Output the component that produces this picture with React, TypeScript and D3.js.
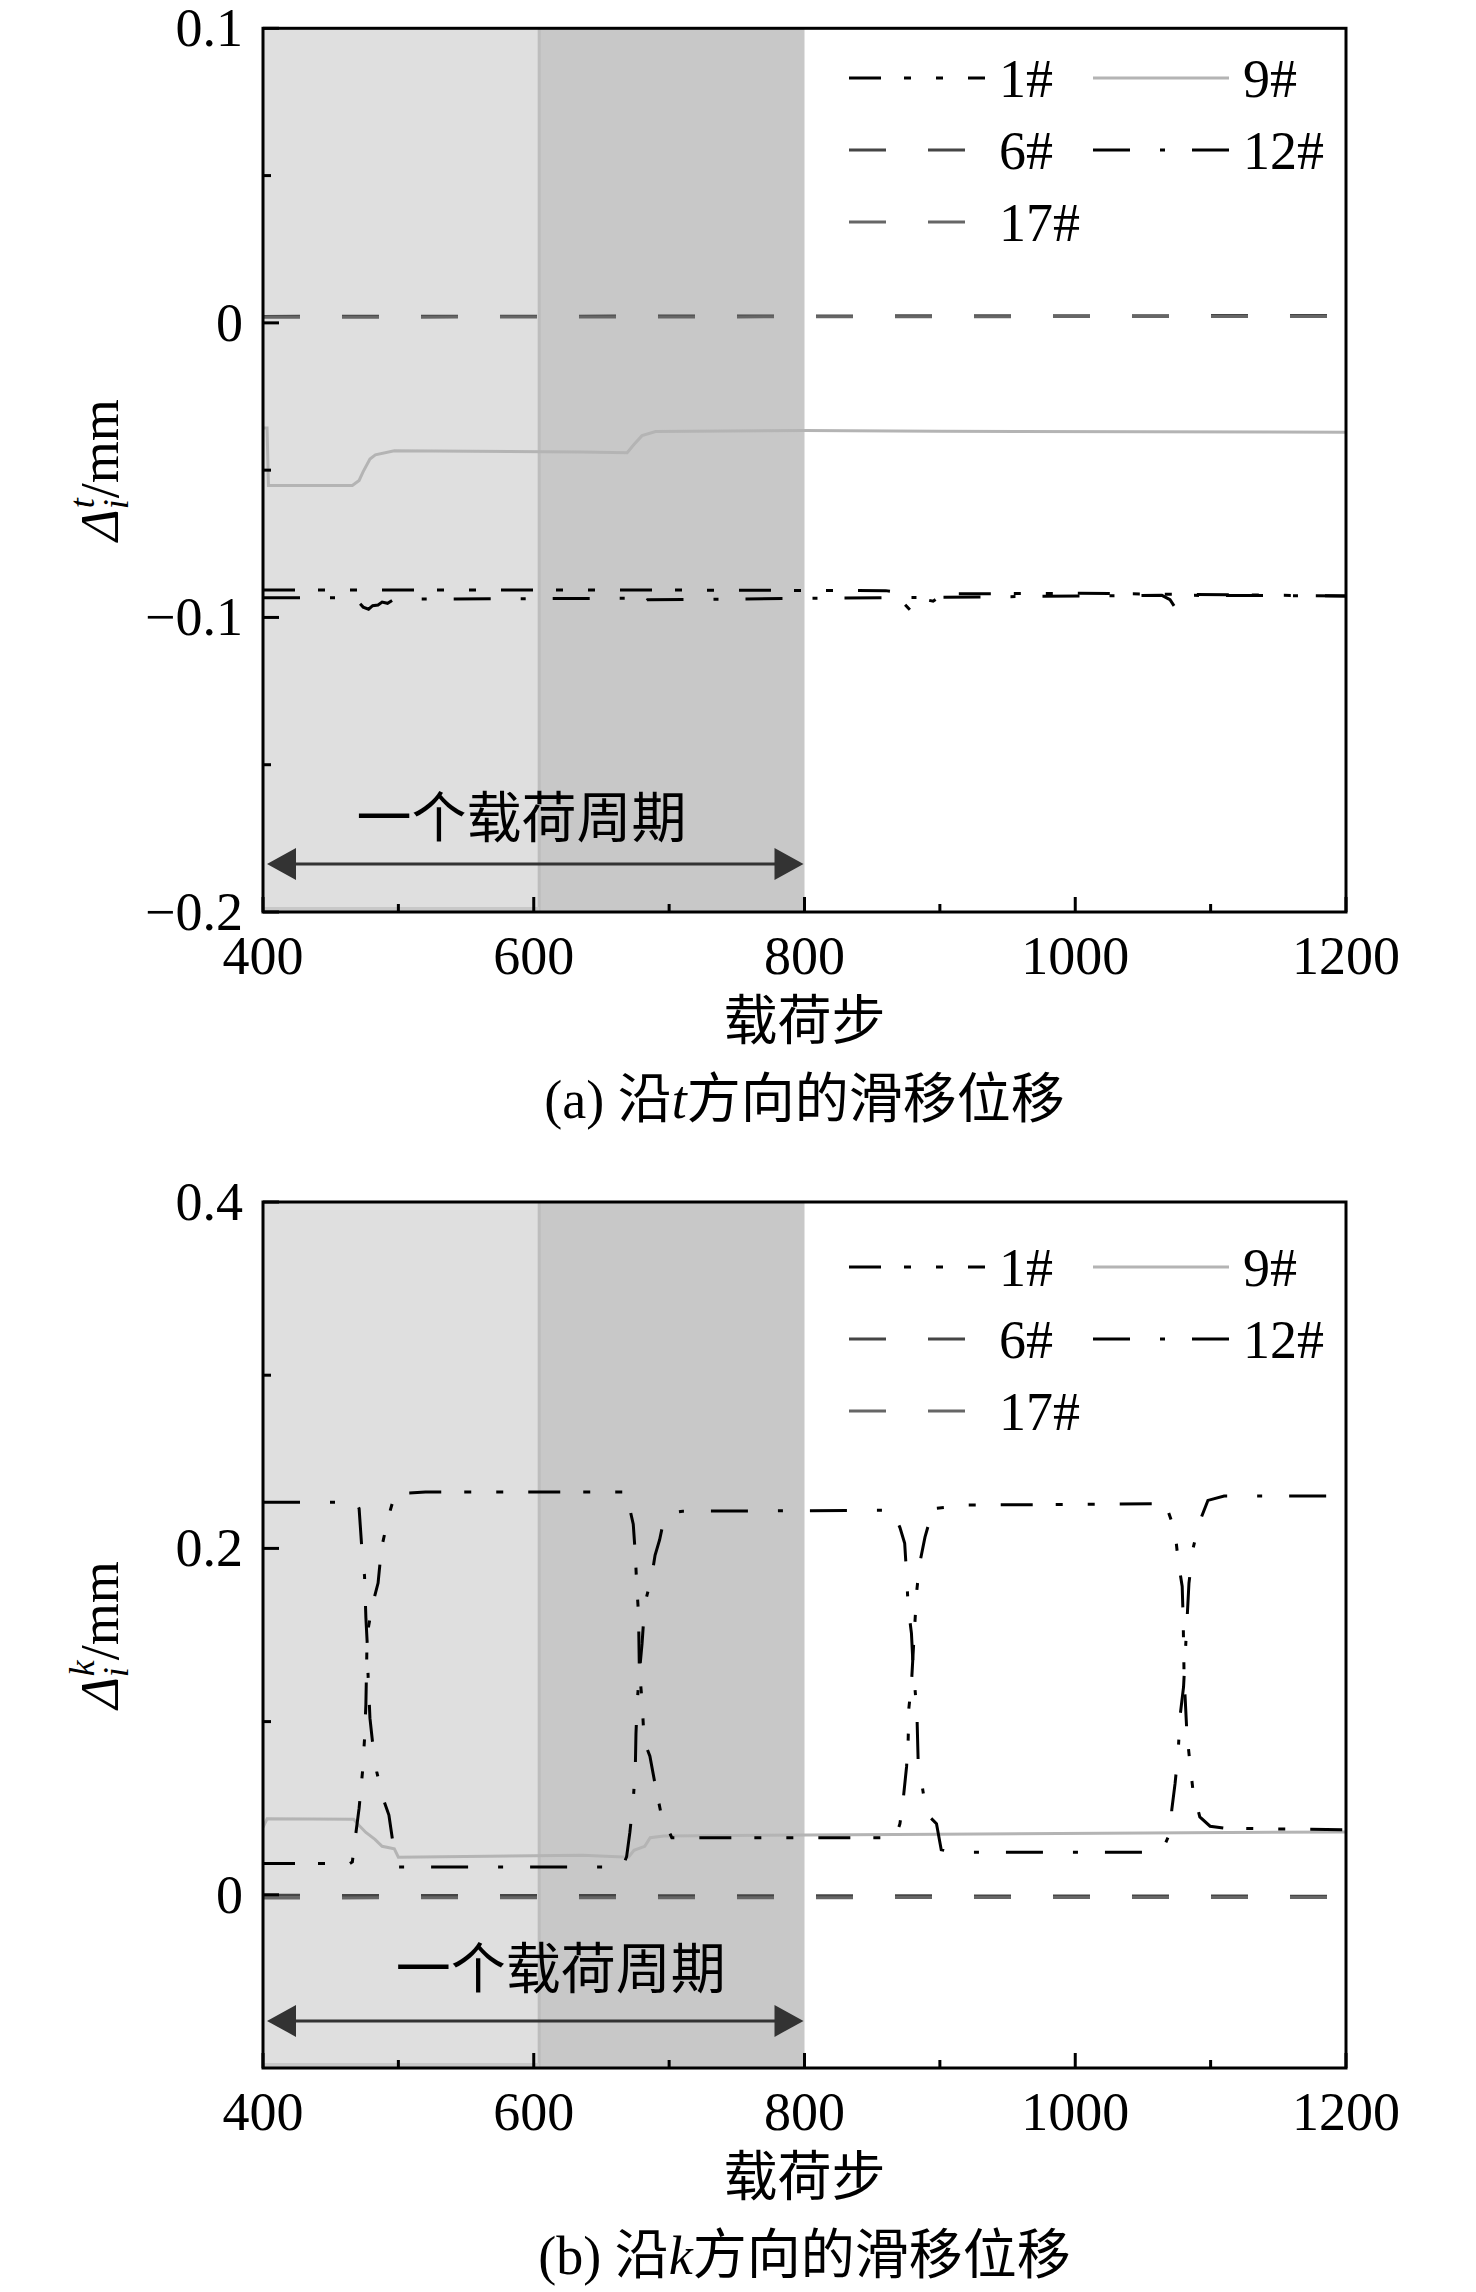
import React from "react";
import * as d3 from "d3";

type Pt = [number, number];

// x: load step, shared by both panels
const xTicks = [400, 600, 800, 1000, 1200];
const xMinor = [500, 700, 900, 1100];

// cycle shading (load steps)
const cycleStart = 400;
const cycleHalf = 604;
const cycleEnd = 800;

// panel (a) y axis
const aDomain: [number, number] = [-0.2, 0.1];
const aTicks = [-0.2, -0.1, 0, 0.1];
const aMinor = [-0.15, -0.05, 0.05];
const aTickLabels = ["−0.2", "−0.1", "0", "0.1"];

// panel (b) y axis
const bDomain: [number, number] = [-0.1, 0.4];
const bTicks = [0, 0.2, 0.4];
const bMinor = [0.1, 0.3];
const bTickLabels = ["0", "0.2", "0.4"];

// panel (a) series, [load step, slip mm]
const a1: Pt[] = [
  [400, -0.0907], [700, -0.0907], [860, -0.0909], [870, -0.0915], [874, -0.0955],
  [878, -0.0975], [882, -0.096], [886, -0.0965], [890, -0.094], [895, -0.0945],
  [903, -0.092], [1000, -0.0918], [1200, -0.0927],
];
const a6: Pt[] = [[400, 0.0022], [1190, 0.0025]];
const a9: Pt[] = [
  [400, -0.0357], [403, -0.0357], [404, -0.0552], [466, -0.0552], [471, -0.0535],
  [474, -0.0505], [479, -0.0462], [483, -0.0448], [497, -0.0434], [636, -0.0438],
  [669, -0.0441], [674, -0.0413], [680, -0.0383], [690, -0.0369], [800, -0.0365],
  [900, -0.0368], [1200, -0.0371],
];
const a12: Pt[] = [
  [400, -0.0933], [464, -0.0933], [470, -0.0945], [474, -0.0965], [478, -0.0972],
  [481, -0.096], [485, -0.0958], [488, -0.0948], [492, -0.0952], [497, -0.0938],
  [670, -0.0935], [674, -0.0945], [677, -0.0962], [680, -0.0955], [684, -0.094],
  [1064, -0.0925], [1070, -0.094], [1075, -0.0975], [1079, -0.096], [1083, -0.0925],
  [1200, -0.0927],
];
const a17: Pt[] = [[400, 0.0019], [1190, 0.0022]];

// panel (b) series
const b1: Pt[] = [
  [400, 0.018], [464, 0.018], [466, 0.019], [469, 0.038], [471, 0.05], [473.5, 0.071],
  [475, 0.09], [476, 0.11], [476.7, 0.14], [478, 0.155], [481, 0.168], [485, 0.18],
  [487.5, 0.2], [492.6, 0.218], [497.5, 0.2316], [520, 0.2325], [668, 0.2325],
  [669, 0.2296], [673.5, 0.214], [675, 0.197], [676, 0.18], [677.4, 0.162], [678, 0.13],
  [680, 0.112], [681, 0.097], [683.4, 0.085], [685.8, 0.08], [689.6, 0.064], [694, 0.047],
  [702, 0.033], [865, 0.033], [868, 0.035], [870.5, 0.041], [872.9, 0.055], [875.4, 0.074],
  [876.6, 0.09], [877, 0.107], [879, 0.122], [881, 0.15], [883, 0.176], [885, 0.191],
  [889, 0.2065], [895, 0.223], [920, 0.225], [1066, 0.2258], [1067.5, 0.224],
  [1073.7, 0.21], [1076, 0.193], [1079, 0.178], [1079.7, 0.16], [1080.4, 0.126],
  [1082.5, 0.093], [1085, 0.074], [1087, 0.06], [1092, 0.045], [1099.6, 0.0396],
  [1110, 0.0385], [1200, 0.0375],
];
const b6: Pt[] = [[400, -0.0003], [1190, -0.0008]];
const b9: Pt[] = [
  [400, 0.039], [403, 0.0439], [467, 0.0436], [471, 0.04], [476, 0.036], [482.7, 0.032],
  [488, 0.028], [497, 0.0266], [500, 0.0217], [636, 0.0228], [670, 0.0217], [674, 0.0257],
  [682, 0.028], [686, 0.033], [696, 0.034], [900, 0.035], [1200, 0.0363],
];
const b12: Pt[] = [
  [400, 0.2267], [469, 0.2267], [471, 0.223], [473, 0.2], [475, 0.184], [476, 0.16],
  [477, 0.145], [477.5, 0.129], [479, 0.102], [481, 0.0875], [484, 0.071], [489, 0.055],
  [493, 0.046], [496, 0.03], [500, 0.016], [664, 0.016], [666, 0.017], [668.6, 0.022],
  [671, 0.036], [673.5, 0.055], [675, 0.072], [675.5, 0.093], [676.5, 0.112], [678, 0.128],
  [680, 0.145], [682, 0.168], [687, 0.183], [689.6, 0.196], [693, 0.205], [697, 0.22],
  [710, 0.2215], [865, 0.222], [870.5, 0.212], [874, 0.203], [875.4, 0.185],
  [876.6, 0.166], [879, 0.151], [880.2, 0.132], [881.5, 0.12], [883, 0.106], [884, 0.076],
  [887.5, 0.06], [890, 0.047], [897.5, 0.041], [901, 0.026], [910, 0.0245], [1063, 0.0245],
  [1065, 0.027], [1070, 0.0356], [1071.3, 0.049], [1073.7, 0.064], [1076, 0.082],
  [1077.4, 0.103], [1080, 0.12], [1082, 0.15], [1084, 0.18], [1086, 0.193], [1087, 0.2],
  [1092, 0.2157], [1098, 0.2277], [1110, 0.2302], [1200, 0.2302],
];
const b17: Pt[] = [[400, -0.0018], [1190, -0.0015]];

const legendRows = [["1#", "9#"], ["6#", "12#"], ["17#"]];

const styles: Record<string, { color: string; dash?: string }> = {
  "1#": { color: "#000", dash: "32,23,7,25,7,25" },
  "6#": { color: "#454545", dash: "37,42" },
  "9#": { color: "#b4b4b4" },
  "12#": { color: "#000", dash: "37,30,5,27" },
  "17#": { color: "#666", dash: "37,42" },
};

const serif = "'Liberation Serif', 'Times New Roman', 'Noto Sans CJK SC', serif";

interface PanelProps {
  id: string;
  top: number;
  bottom: number;
  domain: [number, number];
  ticks: number[];
  minor: number[];
  tickLabels: string[];
  data: Record<string, Pt[]>;
  sup: string;
  letter: string;
  legendY: number;
  labelMid: number;
  arrowLevel: number;
  note: Pt;
}

const Panel: React.FC<PanelProps> = (p) => {
  const x = d3.scaleLinear().domain([400, 1200]).range([263, 1346]);
  const y = d3.scaleLinear().domain(p.domain).range([p.bottom, p.top]);
  const line = d3.line<Pt>().x((d) => x(d[0])).y((d) => y(d[1]));
  const left = x(400), right = x(1200);
  const midX = (left + right) / 2;
  const ay = y(p.arrowLevel);
  const a0 = x(cycleStart) + 4, a1x = x(cycleEnd) - 1;

  // draw order: dashed grays first, black on top
  const order = ["6#", "17#", "9#", "1#", "12#"];

  return (
    <g fontFamily={serif}>
      <defs>
        <clipPath id={`clip-${p.id}`}>
          <rect x={left} y={p.top} width={right - left} height={p.bottom - p.top} />
        </clipPath>
      </defs>

      {/* load cycle shading */}
      <rect x={x(cycleStart)} y={p.top} width={x(cycleHalf) - x(cycleStart)}
        height={p.bottom - p.top} fill="#dfdfdf" />
      <rect x={x(cycleHalf)} y={p.top} width={x(cycleEnd) - x(cycleHalf)}
        height={p.bottom - p.top} fill="#c8c8c8" />
      <line x1={x(cycleHalf)} x2={x(cycleHalf)} y1={p.top} y2={p.bottom}
        stroke="#bdbdbd" strokeWidth={3} />
      <line x1={x(cycleStart)} x2={x(cycleHalf)} y1={p.bottom - 3} y2={p.bottom - 3}
        stroke="#c8c8c8" strokeWidth={4} />

      <g clipPath={`url(#clip-${p.id})`}>
        {order.map((k) => (
          <path key={k} d={line(p.data[k]) || ""} fill="none"
            stroke={styles[k].color} strokeWidth={3}
            strokeDasharray={styles[k].dash} />
        ))}
      </g>

      {/* one load cycle arrow */}
      <line x1={a0 + 20} x2={a1x - 20} y1={ay} y2={ay} stroke="#333" strokeWidth={3} />
      <polygon points={`${a0},${ay} ${a0 + 29},${ay - 16} ${a0 + 29},${ay + 16}`} fill="#333" />
      <polygon points={`${a1x},${ay} ${a1x - 29},${ay - 16} ${a1x - 29},${ay + 16}`} fill="#333" />
      <text x={x(p.note[0])} y={y(p.note[1])} fontSize={55} textAnchor="middle">一个载荷周期</text>

      {/* frame and ticks */}
      <rect x={left} y={p.top} width={right - left} height={p.bottom - p.top}
        fill="none" stroke="#000" strokeWidth={3} />
      {xTicks.map((t) => (
        <line key={`xt${t}`} x1={x(t)} x2={x(t)} y1={p.bottom} y2={p.bottom - 15}
          stroke="#000" strokeWidth={3} />
      ))}
      {xMinor.map((t) => (
        <line key={`xm${t}`} x1={x(t)} x2={x(t)} y1={p.bottom} y2={p.bottom - 8}
          stroke="#000" strokeWidth={3} />
      ))}
      {p.ticks.map((t) => (
        <line key={`yt${t}`} x1={left} x2={left + 16} y1={y(t)} y2={y(t)}
          stroke="#000" strokeWidth={3} />
      ))}
      {p.minor.map((t) => (
        <line key={`ym${t}`} x1={left} x2={left + 8} y1={y(t)} y2={y(t)}
          stroke="#000" strokeWidth={3} />
      ))}

      {xTicks.map((t) => (
        <text key={`xl${t}`} x={x(t)} y={p.bottom + 62} fontSize={54} textAnchor="middle">{t}</text>
      ))}
      {p.ticks.map((t, i) => (
        <text key={`yl${t}`} x={243} y={y(t) + 18} fontSize={54} textAnchor="end">{p.tickLabels[i]}</text>
      ))}

      <text x={midX} y={p.bottom + 128} fontSize={54} textAnchor="middle">载荷步</text>
      <text x={midX} y={p.bottom + 206} fontSize={54} textAnchor="middle">
        ({p.letter}) 沿<tspan fontStyle="italic">{p.sup}</tspan>方向的滑移位移
      </text>

      <text transform={`translate(118,${p.labelMid}) rotate(-90)`} fontSize={54} textAnchor="middle">
        <tspan fontStyle="italic">Δ</tspan>
        <tspan fontStyle="italic" fontSize={36} dy={10}>i</tspan>
        <tspan fontStyle="italic" fontSize={36} dx={-9} dy={-34}>{p.sup}</tspan>
        <tspan dy={24}>/mm</tspan>
      </text>

      {/* legend */}
      {legendRows.map((row, r) =>
        row.map((k, c) => {
          const lx = c === 0 ? 849 : 1093;
          const ly = p.legendY + r * 72;
          return (
            <g key={k}>
              <line x1={lx} x2={lx + 136} y1={ly} y2={ly} stroke={styles[k].color}
                strokeWidth={3} strokeDasharray={styles[k].dash} />
              <text x={lx + 150} y={ly + 19} fontSize={54}>{k}</text>
            </g>
          );
        })
      )}
    </g>
  );
};

export default function App() {
  const dataA: Record<string, Pt[]> = { "1#": a1, "6#": a6, "9#": a9, "12#": a12, "17#": a17 };
  const dataB: Record<string, Pt[]> = { "1#": b1, "6#": b6, "9#": b9, "12#": b12, "17#": b17 };
  return (
    <svg width={1476} height={2292} viewBox="0 0 1476 2292"
      style={{ position: "absolute", left: 0, top: 0, background: "#fff" }}>
      <rect width={1476} height={2292} fill="#fff" />
      <Panel id="a" top={28.3} bottom={912} domain={aDomain} ticks={aTicks} minor={aMinor}
        tickLabels={aTickLabels} data={dataA} sup="t" letter="a" legendY={78}
        labelMid={470} arrowLevel={-0.1837} note={[591, -0.1745]} />
      <Panel id="b" top={1202} bottom={2068} domain={bDomain} ticks={bTicks} minor={bMinor}
        tickLabels={bTickLabels} data={dataB} sup="k" letter="b" legendY={1267}
        labelMid={1635} arrowLevel={-0.0728} note={[620, -0.054]} />
    </svg>
  );
}
